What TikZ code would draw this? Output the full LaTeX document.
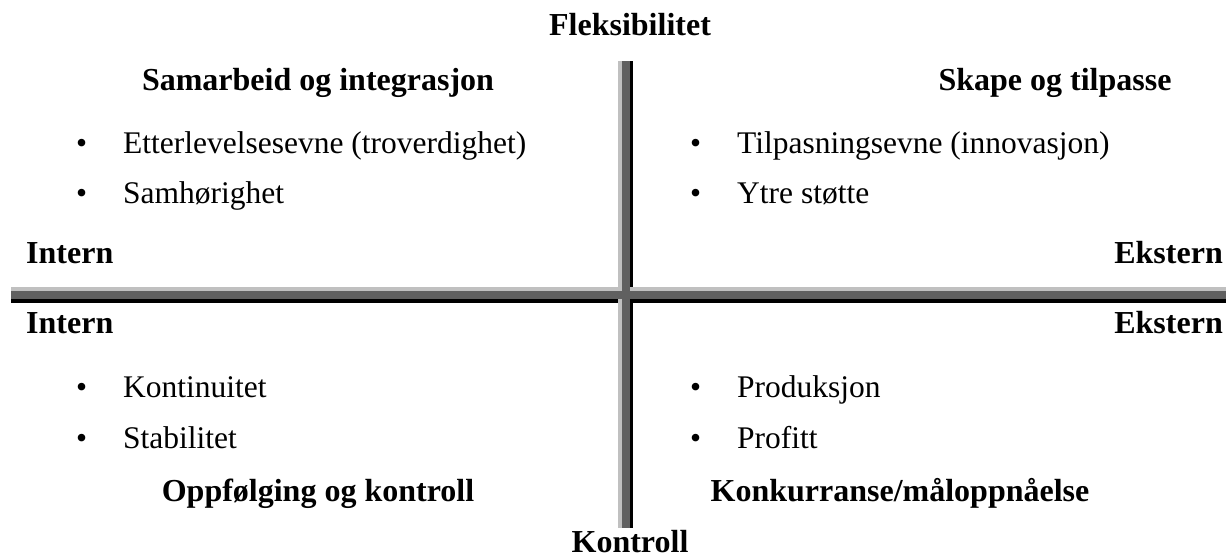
\documentclass[tikz,border=0pt]{standalone}
\usepackage{fontspec}
\setmainfont{Liberation Serif}
\definecolor{barlight}{RGB}{192,192,192}
\definecolor{bardark}{RGB}{96,96,96}
\newcommand{\itm}[1]{\makebox[47pt][l]{\textbullet}#1}
\begin{document}
\begin{tikzpicture}[x=1pt, y=-1pt, inner sep=0pt,
		head/.style = {anchor=base, font=\fontsize{32}{38}\selectfont\bfseries},
		side/.style = {font=\fontsize{32}{38}\selectfont\bfseries},
		item/.style = {anchor=base west, font=\fontsize{31.5}{38}\selectfont}]
		\useasboundingbox (0,0) rectangle (1226,557);
		% vertical bar
		\fill[barlight] (618,61) rectangle (622,528);
		\fill[bardark] (622,61) rectangle (630,528);
		\fill[black] (630,61) rectangle (633,528);
		% horizontal bar
		\fill[barlight] (11,287) rectangle (618,291);
		\fill[bardark] (11,291) rectangle (618,299);
		\fill[black] (11,299) rectangle (618,303);
		\fill[barlight] (630,287) rectangle (1226,291);
		\fill[bardark] (630,291) rectangle (1226,299);
		\fill[black] (630,299) rectangle (1226,303);
		\fill[bardark] (618,291) rectangle (630,299);
		% axes
		\node[head] (fl) at (630,35) {Fleksibilitet};
		\node[head] (ko) at (630,552) {Kontroll};
		\node[side, anchor=base west] (in1) at (26,263) {Intern};
		\node[side, anchor=base east] (ek1) at (1223,263) {Ekstern};
		\node[side, anchor=base west] (in2) at (26,333) {Intern};
		\node[side, anchor=base east] (ek2) at (1223,333) {Ekstern};
		% quadrants
		\node[head] (q1) at (318,90) {Samarbeid og integrasjon};
		\node[item] (a1) at (76,153) {\itm{Etterlevelsesevne (troverdighet)}};
		\node[item] (a2) at (76,203) {\itm{Samhørighet}};
		\node[head] (q2) at (1055,90) {Skape og tilpasse};
		\node[item] (b1) at (690,153) {\itm{Tilpasningsevne (innovasjon)}};
		\node[item] (b2) at (690,203) {\itm{Ytre støtte}};
		\node[item] (c1) at (76,397) {\itm{Kontinuitet}};
		\node[item] (c2) at (76,448) {\itm{Stabilitet}};
		\node[head] (q3) at (318,501) {Oppfølging og kontroll};
		\node[item] (d1) at (690,397) {\itm{Produksjon}};
		\node[item] (d2) at (690,448) {\itm{Profitt}};
		\node[head] (q4) at (900,501) {Konkurranse/måloppnåelse};
	\end{tikzpicture}
\end{document}
